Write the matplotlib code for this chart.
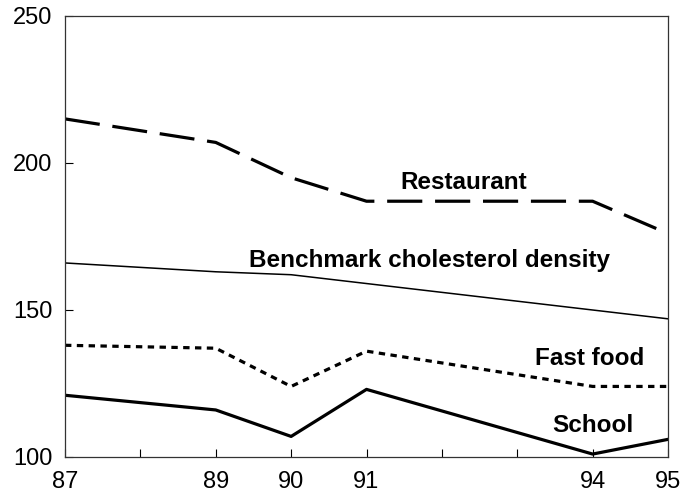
import matplotlib
matplotlib.use("Agg")
import matplotlib.pyplot as plt

plt.rcParams['font.family'] = ['Liberation Sans', 'DejaVu Sans']

years = [87, 89, 90, 91, 94, 95]
restaurant = [215, 207, 195, 187, 187, 176]
benchmark = [166, 163, 162, 159, 150, 147]
fast_food = [138, 137, 124, 136, 124, 124]
school = [121, 116, 107, 123, 101, 106]

tick_years = list(range(87, 96))
tick_labels = [str(y) if y in years else '' for y in tick_years]

fig = plt.figure(figsize=(6.96, 4.95), dpi=100)
ax = fig.add_axes([65 / 696, 1 - 457 / 495, 603 / 696, 441 / 495])

ax.plot(years, restaurant, color='black', lw=2.3, dashes=(11, 4))
ax.plot(years, benchmark, color='black', lw=1.1)
ax.plot(years, fast_food, color='black', lw=2.3, dashes=(2, 1.7))
ax.plot(years, school, color='black', lw=2.3)

# labels on the lines
lab = dict(fontsize=17.5, fontweight='bold', ha='center', va='center')
ax.text(92.29, 193.3, 'Restaurant', **lab)
ax.text(91.84, 166.8, 'Benchmark cholesterol density', **lab)
ax.text(93.96, 133.5, 'Fast food', **lab)
ax.text(94.0, 110.7, 'School', **lab)

ax.set_xlim(87, 95)
ax.set_ylim(100, 250)
ax.set_xticks(tick_years)
ax.set_xticklabels(tick_labels)
ax.set_yticks([100, 150, 200, 250])
ax.tick_params(axis='x', direction='in', length=6, width=0.8, labelsize=17, pad=10)
ax.tick_params(axis='y', direction='in', length=6, width=0.8, labelsize=17, pad=9)
for s in ax.spines.values():
    s.set_linewidth(0.9)
    s.set_color('#333333')

fig.savefig('out.png', dpi=100)
